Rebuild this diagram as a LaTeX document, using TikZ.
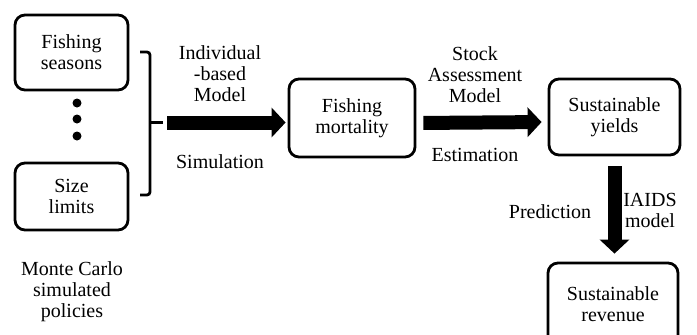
\documentclass[tikz,border=0pt]{standalone}
\usepackage{fontspec}
\setmainfont{Liberation Serif}
\usetikzlibrary{arrows.meta}
\begin{document}
\begin{tikzpicture}[x = 1pt, y = -1pt,
		box/.style = {draw, rounded corners = 10pt, line width = 2.8pt, align = center, inner sep = 0pt, font = \fontsize{20}{21}\selectfont},
		lbl/.style = {align = center, font = \fontsize{20}{21}\selectfont},
		fat/.style = {line width = 14pt, -{Triangle[length = 14pt, width = 29pt]}}]
	\useasboundingbox (0,0) rectangle (697,335);
	% policies
	\node[box, minimum width = 113pt, minimum height = 75pt] (seasons) at (71.5,52.5) {Fishing\\seasons};
	\node[box, minimum width = 113pt, minimum height = 67pt] (limits) at (71.5,196.5) {Size\\limits};
	\foreach \y in {103,119,136} \fill (77,\y) circle (4.5pt);
	\node[lbl] (policies) at (72,292) {Monte Carlo\\simulated\\policies};
	\draw[line width = 2.8pt, rounded corners = 3pt] (140,52) -- (150,52) -- (150,195) -- (140,195);
	\draw[line width = 2.8pt] (150,122.5) -- (163,122.5) coordinate (b);
	% chain
	\node[box, minimum width = 126pt, minimum height = 78pt] (mortality) at (352,118) {Fishing\\mortality};
	\node[box, minimum width = 131pt, minimum height = 76pt] (yields) at (614.5,117) {Sustainable\\yields};
	\node[box, minimum width = 130pt, minimum height = 82pt] (revenue) at (613,304) {Sustainable\\revenue};
	\draw[fat, shorten <= 4pt, shorten >= 2pt] (b) -- (mortality.west |- b);
	\draw[fat, shorten <= 7pt, shorten >= 6pt] ([yshift = -5pt]mortality.east) -- ([yshift = -5pt]yields.west);
	\draw[fat, shorten <= 10pt, shorten >= 8pt] (yields.south) -- (yields.south |- revenue.north);
	% labels
	\node[lbl] (ibm) at (220,74) {Individual\\-based\\Model};
	\node[lbl] (sim) at (220,162) {Simulation};
	\node[lbl] (sam) at (475,75) {Stock\\Assessment\\Model};
	\node[lbl] (est) at (475,155) {Estimation};
	\node[lbl] (pred) at (550,212) {Prediction};
	\node[lbl] (iaids) at (650,210) {IAIDS\\model};
\end{tikzpicture}
\end{document}
